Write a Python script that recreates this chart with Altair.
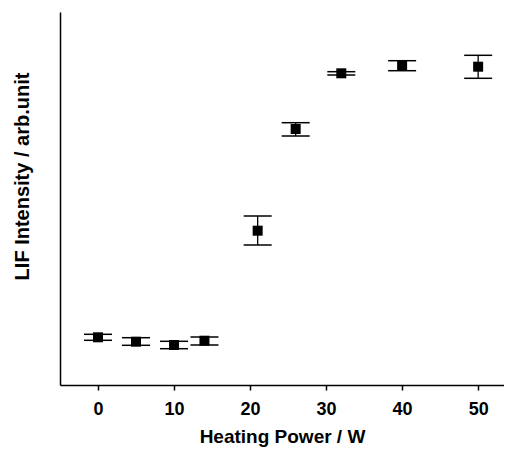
import altair as alt
import pandas as pd

power = [0, 5, 10, 14, 21, 26, 32, 40, 50]
intensity = [47.7, 43.3, 40.0, 44.3, 154.3, 256.0, 311.7, 319.3, 318.3]
err_low = [44.7, 39.7, 36.3, 40.0, 140.0, 249.0, 310.0, 314.3, 306.7]
err_high = [50.7, 47.3, 43.7, 48.0, 169.0, 262.3, 313.3, 324.3, 329.7]

df = pd.DataFrame({"p": power, "v": intensity, "lo": err_low, "hi": err_high})

xs = alt.Scale(domain=[-5, 53.4], nice=False, zero=False)
ys = alt.Scale(domain=[0, 373], nice=False, zero=False)

xenc = alt.X("p:Q", scale=xs,
             axis=alt.Axis(title="Heating Power / W", values=[0, 10, 20, 30, 40, 50],
                           grid=False, tickSize=5, labelPadding=10, labelFontSize=18,
                           titleFontSize=19, titlePadding=9))
yenc_axis = alt.Axis(title="LIF Intensity / arb.unit", grid=False, ticks=False,
                     labels=False, titlePadding=28, titleFontSize=20, titleY=164)

base = alt.Chart(df)

rules = base.mark_rule(color="black", strokeWidth=1.3).encode(
    x=xenc, y=alt.Y("lo:Q", scale=ys, axis=yenc_axis), y2="hi:Q")
cap_lo = base.mark_tick(orient="horizontal", size=28, thickness=1.5, color="black", opacity=1).encode(
    x=alt.X("p:Q", scale=xs), y=alt.Y("lo:Q", scale=ys))
cap_hi = base.mark_tick(orient="horizontal", size=28, thickness=1.5, color="black", opacity=1).encode(
    x=alt.X("p:Q", scale=xs), y=alt.Y("hi:Q", scale=ys))
pts = base.mark_square(size=100, color="black", opacity=1, filled=True).encode(
    x=alt.X("p:Q", scale=xs), y=alt.Y("v:Q", scale=ys))

chart = alt.layer(rules, cap_lo, cap_hi, pts).properties(
    width=444, height=373,
    background="white",
    autosize=alt.AutoSizeParams(type="none"),
    padding={"left": 52, "top": 4, "right": 0, "bottom": 66},
).configure_view(stroke=None).configure_axis(
    domainColor="black", domainWidth=1.5, tickColor="black", tickWidth=1.5,
    labelFont="Liberation Sans", labelFontWeight="bold", labelColor="black",
    titleFont="Liberation Sans", titleFontWeight="bold", titleColor="black",
)

chart.save("out.html", embed_options={"renderer": "svg", "actions": False})
